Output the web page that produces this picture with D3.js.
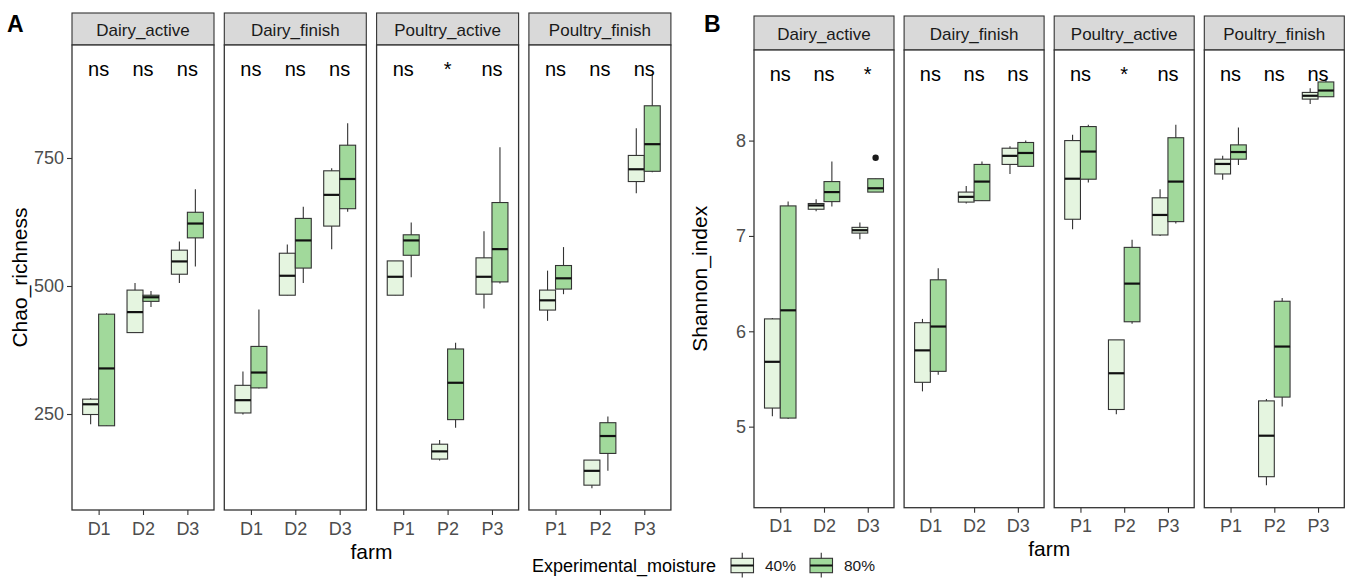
<!DOCTYPE html>
<html><head><meta charset="utf-8">
<script src="https://cdn.jsdelivr.net/npm/d3@7"></script>
<style>body{margin:0;background:#fff} svg{font-family:"Liberation Sans",Arial,sans-serif;display:block}</style>
</head><body><svg id="c" width="1350" height="579"></svg>
<script>
const facets = ["Dairy_active","Dairy_finish","Poultry_active","Poultry_finish"];
const dairyFarms = ["D1","D2","D3"];
const poultryFarms = ["P1","P2","P3"];
const moistures = ["40%","80%"];
const moistureColors = ["#E5F5E0","#A1D99B"];
const chaoTicks = [250,500,750];
const shannonTicks = [5,6,7,8];

// rows: [farm, moisture, lowerWhisker, q1, median, q3, upperWhisker]
const chaoDairyActive = [
  ["D1","40%",230,249,269,279,281],
  ["D1","80%",227,227,339,445,447],
  ["D2","40%",409,409,449,492,506],
  ["D2","80%",459,470,478,482,490],
  ["D3","40%",506,523,548,570,587],
  ["D3","80%",538,594,622,644,689]];
const chaoDairyFinish = [
  ["D1","40%",249,252,277,306,333],
  ["D1","80%",300,301,331,382,454],
  ["D2","40%",482,482,520,564,581],
  ["D2","80%",506,535,589,632,655],
  ["D3","40%",572,617,678,725,730],
  ["D3","80%",645,651,709,775,818]];
const chaoPoultryActive = [
  ["P1","40%",482,482,518,549,549],
  ["P1","80%",517,560,589,600,624],
  ["P2","40%",159,162,177,191,199],
  ["P2","80%",223,239,311,377,389],
  ["P3","40%",456,484,518,555,607],
  ["P3","80%",505,508,572,663,771]];
const chaoPoultryFinish = [
  ["P1","40%",432,453,472,492,530],
  ["P1","80%",484,494,515,540,576],
  ["P2","40%",105,111,139,160,160],
  ["P2","80%",139,173,207,233,245],
  ["P3","40%",681,704,728,755,808],
  ["P3","80%",722,724,777,852,912]];

const shannonDairyActive = [
  ["D1","40%",5.11,5.195,5.68,6.13,6.14],
  ["D1","80%",5.08,5.09,6.22,7.315,7.36],
  ["D2","40%",7.26,7.28,7.32,7.34,7.385],
  ["D2","80%",7.31,7.36,7.46,7.57,7.78],
  ["D3","40%",6.965,7.03,7.06,7.09,7.14],
  ["D3","80%",7.46,7.46,7.50,7.60,7.60]];
const shannonDairyFinish = [
  ["D1","40%",5.37,5.465,5.80,6.09,6.13],
  ["D1","80%",5.545,5.58,6.05,6.54,6.66],
  ["D2","40%",7.34,7.355,7.41,7.46,7.525],
  ["D2","80%",7.37,7.37,7.57,7.75,7.78],
  ["D3","40%",7.65,7.75,7.84,7.92,7.94],
  ["D3","80%",7.73,7.73,7.87,7.98,8.00]];
const shannonPoultryActive = [
  ["P1","40%",7.07,7.175,7.60,8.00,8.06],
  ["P1","80%",7.56,7.595,7.885,8.147,8.165],
  ["P2","40%",5.13,5.18,5.56,5.91,5.91],
  ["P2","80%",6.08,6.10,6.50,6.88,6.96],
  ["P3","40%",7.00,7.01,7.22,7.40,7.49],
  ["P3","80%",7.13,7.15,7.57,8.03,8.165]];
const shannonPoultryFinish = [
  ["P1","40%",7.59,7.65,7.755,7.805,7.84],
  ["P1","80%",7.745,7.805,7.88,7.955,8.136],
  ["P2","40%",4.385,4.475,4.905,5.27,5.29],
  ["P2","80%",5.21,5.31,5.84,6.315,6.35],
  ["P3","40%",8.385,8.435,8.47,8.505,8.55],
  ["P3","80%",8.46,8.46,8.525,8.615,8.65]];
// [facet, farm, moisture, value]
const shannonOutliers = [["Dairy_active","D3","80%",7.82]];

const chaoSig = [["ns","ns","ns"],["ns","ns","ns"],["ns","*","ns"],["ns","ns","ns"]];
const shannonSig = [["ns","ns","*"],["ns","ns","ns"],["ns","*","ns"],["ns","ns","ns"]];

const svg = d3.select("#c");
const INK = "#333333";

function drawPlot(cfg) {
  const g = svg.append("g");
  const y = d3.scaleLinear().domain(cfg.domain).range([cfg.panelBottom, cfg.stripBottom]);
  cfg.data.forEach((rows, fi) => {
    const x0 = cfg.left + fi * (cfg.facetW + cfg.gap);
    const farms = fi < 2 ? dairyFarms : poultryFarms;
    const x = d3.scalePoint().domain(farms).range([x0, x0 + cfg.facetW]).padding(0.6);
    const step = x.step();
    const fg = g.append("g");
    // strip
    fg.append("rect").attr("x", x0).attr("y", cfg.stripTop).attr("width", cfg.facetW)
      .attr("height", cfg.stripBottom - cfg.stripTop).attr("fill", "#D9D9D9")
      .attr("stroke", INK).attr("stroke-width", 1.1);
    fg.append("text").attr("x", x0 + cfg.facetW / 2).attr("y", cfg.stripBaseline)
      .attr("text-anchor", "middle").attr("font-size", 17).attr("fill", "#1A1A1A").text(facets[fi]);
    // panel
    fg.append("rect").attr("x", x0).attr("y", cfg.stripBottom).attr("width", cfg.facetW)
      .attr("height", cfg.panelBottom - cfg.stripBottom).attr("fill", "#fff")
      .attr("stroke", INK).attr("stroke-width", 1.3);
    // boxes
    const off = m => (moistures.indexOf(m) === 0 ? -0.18 : 0.18) * step;
    const bw = 0.36 * step;
    const bx = fg.selectAll("g.box").data(rows).enter().append("g");
    bx.append("line").attr("x1", d => x(d[0]) + off(d[1])).attr("x2", d => x(d[0]) + off(d[1]))
      .attr("y1", d => y(d[2])).attr("y2", d => y(d[6])).attr("stroke", INK).attr("stroke-width", 1.1);
    bx.append("rect").attr("x", d => x(d[0]) + off(d[1]) - bw / 2).attr("width", bw)
      .attr("y", d => y(d[5])).attr("height", d => Math.max(0.5, y(d[3]) - y(d[5])))
      .attr("fill", d => moistureColors[moistures.indexOf(d[1])]).attr("stroke", INK).attr("stroke-width", 1.1);
    bx.append("line").attr("x1", d => x(d[0]) + off(d[1]) - bw / 2).attr("x2", d => x(d[0]) + off(d[1]) + bw / 2)
      .attr("y1", d => y(d[4])).attr("y2", d => y(d[4])).attr("stroke", "#111").attr("stroke-width", 2.2);
    // outliers
    (cfg.outliers || []).filter(o => o[0] === facets[fi]).forEach(o => {
      fg.append("circle").attr("cx", x(o[1]) + off(o[2])).attr("cy", y(o[3])).attr("r", 3.2).attr("fill", "#1A1A1A");
    });
    // significance labels
    farms.forEach((f, i) => {
      fg.append("text").attr("x", x(f)).attr("y", y(cfg.sigY)).attr("text-anchor", "middle")
        .attr("font-size", 20).attr("fill", "#000").text(cfg.sig[fi][i]);
    });
    // x axis
    const xa = fg.append("g").attr("transform", `translate(0,${cfg.panelBottom})`)
      .call(d3.axisBottom(x).tickSize(5).tickPadding(6));
    xa.select(".domain").remove();
    xa.selectAll("line").attr("stroke", INK).attr("stroke-width", 1.1);
    xa.selectAll("text").attr("font-size", 18).attr("fill", "#4D4D4D").attr("font-family", null)
      .attr("dy", null).attr("y", cfg.xTickBaseline - cfg.panelBottom);
    // y axis (first facet only)
    if (fi === 0) {
      const ya = fg.append("g").attr("transform", `translate(${x0},0)`)
        .call(d3.axisLeft(y).tickValues(cfg.ticks).tickFormat(d3.format("d")).tickSize(5).tickPadding(3));
      ya.select(".domain").remove();
      ya.selectAll("line").attr("stroke", INK).attr("stroke-width", 1.1);
      ya.selectAll("text").attr("font-size", 18).attr("fill", "#4D4D4D").attr("font-family", null);
    }
  });
  // axis titles
  const right = cfg.left + 4 * cfg.facetW + 3 * cfg.gap;
  g.append("text").attr("x", (cfg.left + right) / 2).attr("y", cfg.farmBaseline)
    .attr("text-anchor", "middle").attr("font-size", 21).attr("fill", "#000").text("farm");
  g.append("text").attr("transform", `translate(${cfg.titleX},${(cfg.stripBottom + cfg.panelBottom) / 2}) rotate(-90)`)
    .attr("text-anchor", "middle").attr("font-size", 21).attr("fill", "#000").text(cfg.title);
  g.append("text").attr("x", cfg.tagX).attr("y", cfg.tagY).attr("font-size", 23).attr("font-weight", "bold")
    .attr("fill", "#000").text(cfg.tag);
}

drawPlot({
  left: 72, facetW: 142, gap: 10.3, stripTop: 13, stripBottom: 45, panelBottom: 510,
  domain: [62.5, 970.7], ticks: chaoTicks, stripBaseline: 35.5, xTickBaseline: 535,
  data: [chaoDairyActive, chaoDairyFinish, chaoPoultryActive, chaoPoultryFinish],
  sig: chaoSig, sigY: 910, title: "Chao_richness", titleX: 27, farmBaseline: 559,
  tag: "A", tagX: 7, tagY: 32
});
drawPlot({
  left: 754, facetW: 140, gap: 10.1, stripTop: 16, stripBottom: 50, panelBottom: 507.7,
  domain: [4.15, 8.95], ticks: shannonTicks, stripBaseline: 40, xTickBaseline: 532,
  data: [shannonDairyActive, shannonDairyFinish, shannonPoultryActive, shannonPoultryFinish],
  sig: shannonSig, sigY: 8.63, title: "Shannon_index", titleX: 707, farmBaseline: 556,
  outliers: shannonOutliers, tag: "B", tagX: 704, tagY: 32
});

// legend
const lg = svg.append("g");
lg.append("text").attr("x", 532).attr("y", 571.5).attr("font-size", 18).attr("fill", "#000").text("Experimental_moisture");
const keyX = [731, 810];
moistures.forEach((m, i) => {
  const kx = keyX[i], kw = 22.5, cx = kx + kw / 2;
  lg.append("line").attr("x1", cx).attr("x2", cx).attr("y1", 552.7).attr("y2", 577.5).attr("stroke", INK).attr("stroke-width", 1.1);
  lg.append("rect").attr("x", kx).attr("y", 558.3).attr("width", kw).attr("height", 14.4)
    .attr("fill", moistureColors[i]).attr("stroke", INK).attr("stroke-width", 1.1);
  lg.append("line").attr("x1", kx).attr("x2", kx + kw).attr("y1", 565.5).attr("y2", 565.5).attr("stroke", "#111").attr("stroke-width", 2);
  lg.append("text").attr("x", kx + 34).attr("y", 571).attr("font-size", 15.5).attr("fill", "#1A1A1A").text(m);
});
</script></body></html>
